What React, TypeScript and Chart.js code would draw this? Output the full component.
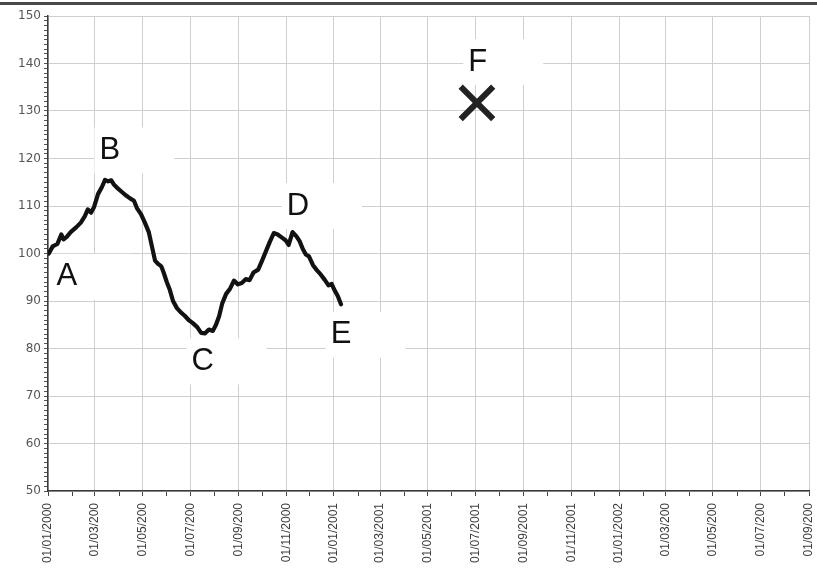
import React, { useEffect, useRef } from "react";
import { Chart, registerables } from "chart.js";

Chart.register(...registerables);

// Tick values: days since 01/01/2000 for the first day of every month
const monthTicks = [
  0, 31, 60, 91, 121, 152, 182, 213, 244, 274, 305, 335,
  366, 397, 425, 456, 486, 517, 547, 578, 609, 639, 670, 700,
  731, 762, 790, 821, 851, 882, 912, 943, 974,
];
const majorTicks = [0, 60, 121, 182, 244, 305, 366, 425, 486, 547, 609, 670, 731, 790, 851, 912, 974];
const majorLabels = [
  "01/01/2000", "01/03/200", "01/05/200", "01/07/200", "01/09/200", "01/11/2000",
  "01/01/2001", "01/03/2001", "01/05/2001", "01/07/2001", "01/09/2001", "01/11/2001",
  "01/01/2002", "01/03/200", "01/05/200", "01/07/200", "01/09/200",
];

// Price series (day offset, value)
const seriesDays = [
  1, 6, 12, 17, 20, 24, 29, 36, 42, 47, 51, 55, 59, 64, 69, 73, 77, 81, 84, 90,
  95, 100, 105, 110, 114, 119, 124, 129, 133, 137, 141, 145, 148, 152, 156, 160,
  165, 170, 175, 180, 185, 191, 196, 201, 206, 211, 215, 219, 223, 228, 233, 238,
  243, 248, 253, 258, 263, 269, 274, 279, 284, 289, 294, 299, 304, 308, 313, 318,
  322, 326, 330, 334, 339, 344, 349, 354, 359, 363, 367, 371, 375,
];
const seriesValues = [
  100, 101.5, 102, 104, 103, 103.5, 104.5, 105.5, 106.5, 107.8, 109.3, 108.6, 109.8, 112.5, 114, 115.5, 115.2, 115.4, 114.6, 113.6,
  112.9, 112.2, 111.6, 111.1, 109.5, 108.3, 106.5, 104.5, 101.5, 98.5, 97.8, 97.3, 96, 94, 92.3, 90,
  88.5, 87.6, 86.9, 86, 85.4, 84.5, 83.3, 83.2, 84, 83.7, 85, 86.8, 89.5, 91.5, 92.6, 94.3,
  93.5, 93.8, 94.6, 94.4, 96, 96.6, 98.5, 100.5, 102.5, 104.3, 104, 103.4, 102.8, 101.8, 104.5, 103.6,
  102.6, 101, 99.8, 99.4, 97.6, 96.5, 95.6, 94.5, 93.3, 93.6, 92.2, 91, 89.3,
];

// Single marked point F
const markerDays = [549];
const markerValues = [131.7];

// Text notes anchored in data coordinates
const noteTexts = ["A", "B", "C", "D", "E", "F"];
const noteDays = [24, 79, 198, 320, 375, 550];
const noteValues = [95.3, 121.9, 77.5, 110.2, 83.1, 140.5];

const NOTE_FONT = "31px 'Liberation Sans', Arial, sans-serif";

const notesPlugin = {
  id: "notes",
  beforeDatasetsDraw(chart: any) {
    const { ctx, chartArea, scales } = chart;
    ctx.save();
    ctx.beginPath();
    ctx.rect(chartArea.left + 1, chartArea.top, chartArea.right - chartArea.left, chartArea.bottom - chartArea.top - 1);
    ctx.clip();
    ctx.font = NOTE_FONT;
    ctx.fillStyle = "#ffffff";
    noteTexts.forEach((t, i) => {
      const px = scales.x.getPixelForValue(noteDays[i]);
      const py = scales.y.getPixelForValue(noteValues[i]);
      const w = ctx.measureText(t).width;
      ctx.fillRect(px - w / 2 - 5, py - 22, 80, 46);
    });
    ctx.restore();
  },
  afterDatasetsDraw(chart: any) {
    const { ctx, scales } = chart;
    ctx.save();
    ctx.font = NOTE_FONT;
    ctx.fillStyle = "#111111";
    ctx.textAlign = "center";
    ctx.textBaseline = "middle";
    noteTexts.forEach((t, i) => {
      const px = scales.x.getPixelForValue(noteDays[i]);
      const py = scales.y.getPixelForValue(noteValues[i]);
      ctx.fillText(t, px, py + 1);
    });
    ctx.restore();
  },
  afterDraw(chart: any) {
    const { ctx, width } = chart;
    ctx.save();
    ctx.fillStyle = "#4a4a4a";
    ctx.fillRect(0, 2, width, 3);
    ctx.restore();
  },
};

export default function App() {
  const ref = useRef<HTMLCanvasElement | null>(null);

  useEffect(() => {
    if (!ref.current) return;
    const majorSet = new Set(majorTicks);
    const chart = new Chart(ref.current, {
      type: "line",
      data: {
        datasets: [
          {
            label: "series",
            data: seriesDays.map((d, i) => ({ x: d, y: seriesValues[i] })),
            borderColor: "#121212",
            borderWidth: 4.2,
            pointRadius: 0,
            tension: 0,
            fill: false,
            borderJoinStyle: "round",
            borderCapStyle: "round",
          },
          {
            label: "F",
            data: markerDays.map((d, i) => ({ x: d, y: markerValues[i] })),
            showLine: false,
            pointStyle: "crossRot",
            pointRadius: 23,
            pointBorderWidth: 6,
            borderColor: "#222222",
            pointBorderColor: "#222222",
            backgroundColor: "#222222",
          },
        ],
      },
      options: {
        responsive: false,
        animation: false,
        layout: { autoPadding: false, padding: { top: 16, right: 8, left: 0, bottom: 0 } },
        plugins: {
          legend: { display: false },
          tooltip: { enabled: false },
        },
        scales: {
          x: {
            type: "linear",
            min: 0,
            max: 974,
            afterBuildTicks: (scale: any) => {
              scale.ticks = monthTicks.map((v) => ({ value: v }));
            },
            afterFit: (scale: any) => {
              scale.height = 80;
              scale.paddingLeft = 0;
              scale.paddingRight = 0;
            },
            ticks: {
              autoSkip: false,
              maxRotation: 90,
              minRotation: 90,
              padding: 7,
              color: "#3c3c3c",
              font: { family: "'Liberation Sans', Arial, sans-serif", size: 12 },
              callback: (value: any) => {
                const idx = majorTicks.indexOf(Number(value));
                return idx >= 0 ? majorLabels[idx] : "";
              },
            },
            grid: {
              color: (c: any) => (c.tick && majorSet.has(c.tick.value) ? "#cfcfcf" : "rgba(0,0,0,0)"),
              tickColor: "#444444",
              tickLength: 5,
              lineWidth: 1,
            },
            border: { color: "#3a3a3a", width: 1.5 },
          },
          y: {
            type: "linear",
            min: 50,
            max: 150,
            afterBuildTicks: (scale: any) => {
              const t = [];
              for (let v = 50; v <= 150; v++) t.push({ value: v });
              scale.ticks = t;
            },
            afterFit: (scale: any) => {
              scale.width = 48;
              scale.paddingTop = 0;
              scale.paddingBottom = 0;
            },
            ticks: {
              autoSkip: false,
              padding: 3,
              color: "#555555",
              font: { family: "'DejaVu Sans', sans-serif", size: 12 },
              callback: (value: any) => (Number(value) % 10 === 0 ? String(value) : ""),
            },
            grid: {
              color: (c: any) => (c.tick && c.tick.value % 10 === 0 ? "#cfcfcf" : "rgba(0,0,0,0)"),
              tickColor: "#555555",
              tickLength: 4,
              lineWidth: 1,
            },
            border: { color: "#3a3a3a", width: 1.5 },
          },
        },
      },
      plugins: [notesPlugin],
    } as any);
    return () => chart.destroy();
  }, []);

  return (
    <div style={{ position: "fixed", left: 0, top: 0, width: 817, height: 571, background: "#ffffff" }}>
      <canvas ref={ref} width={817} height={571} style={{ display: "block" }} />
    </div>
  );
}
